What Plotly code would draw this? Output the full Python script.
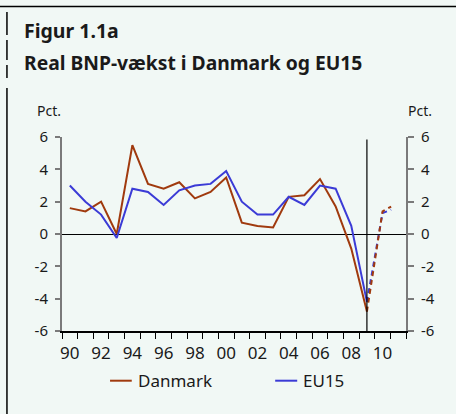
import plotly.graph_objects as go

# ---- data ----
years = list(range(1990, 2010))
danmark = [1.6, 1.4, 2.0, 0.0, 5.5, 3.1, 2.8, 3.2, 2.2, 2.6,
           3.5, 0.7, 0.5, 0.4, 2.3, 2.4, 3.4, 1.7, -0.9, -4.8]
eu15 = [3.0, 2.0, 1.2, -0.25, 2.8, 2.6, 1.8, 2.7, 3.0, 3.1,
        3.9, 2.0, 1.2, 1.2, 2.3, 1.8, 3.0, 2.8, 0.5, -4.2]
fc_years = [2009, 2010, 2010.55]
danmark_fc = [-4.8, 1.4, 1.7]
eu15_fc = [-4.2, 1.3, 1.5]
y_ticks = [-6, -4, -2, 0, 2, 4, 6]
y_ticktext = ["-6", "-4", "-2", "0", "2", "4", "6"]
x_label_years = list(range(1990, 2011, 2))
x_ticktext = ["90", "92", "94", "96", "98", "00", "02", "04", "06", "08", "10"]
x_boundaries = [1989.5 + i for i in range(23)]
split_year = 2009

RED = "#a03a0e"
BLUE = "#3b3bd6"
BG = "#f1f8f5"
FONT = "Noto Sans"
TXT = "#1a1a1a"

W, H = 456, 414
L, R, T, B = 62, 405.7, 137, 331


def fx(px):
    return (px - L) / (R - L)


def fy(py):
    return (B - py) / (B - T)


fig = go.Figure()
fig.add_trace(go.Scatter(x=years, y=danmark, mode="lines", name="Danmark",
                         line=dict(color=RED, width=2)))
fig.add_trace(go.Scatter(x=years, y=eu15, mode="lines", name="EU15",
                         line=dict(color=BLUE, width=2)))
fig.add_trace(go.Scatter(x=fc_years, y=eu15_fc, mode="lines", showlegend=False,
                         line=dict(color=BLUE, width=2, dash="5px,4px")))
fig.add_trace(go.Scatter(x=fc_years, y=danmark_fc, mode="lines", showlegend=False,
                         line=dict(color=RED, width=2, dash="5px,4px")))
# invisible trace to activate secondary axes
fig.add_trace(go.Scatter(x=years, y=danmark, xaxis="x2", yaxis="y2", mode="lines",
                         opacity=0, showlegend=False, hoverinfo="skip"))

fig.update_layout(
    width=W, height=H,
    margin=dict(l=L, r=W - R, t=T, b=H - B),
    paper_bgcolor=BG, plot_bgcolor=BG,
    showlegend=False,
    font=dict(family=FONT, color=TXT, size=14),
    xaxis=dict(range=[1989.5, 2011.5], tickmode="array", tickvals=x_boundaries,
               showticklabels=False, ticks="outside", ticklen=6, tickwidth=1,
               tickcolor="black", showline=True, linecolor="black", linewidth=1.5,
               showgrid=False, zeroline=False, fixedrange=True),
    xaxis2=dict(range=[1989.5, 2011.5], overlaying="x", anchor="y", side="bottom",
                tickmode="array", tickvals=x_label_years, ticktext=x_ticktext,
                ticks="", showline=False, showgrid=False, zeroline=False,
                tickfont=dict(size=17), ticklabelstandoff=10),
    yaxis=dict(range=[-6, 6], tickmode="array", tickvals=y_ticks, ticktext=y_ticktext,
               ticks="outside", ticklen=5, tickwidth=1.5, tickcolor="#7a7a7a",
               showline=True, linecolor="#7a7a7a", linewidth=2,
               showgrid=False, zeroline=True, zerolinecolor="black", zerolinewidth=1.3,
               tickfont=dict(size=15), ticklabelstandoff=4),
    yaxis2=dict(range=[-6, 6], overlaying="y", side="right", anchor="x",
                tickmode="array", tickvals=y_ticks, ticktext=y_ticktext,
                ticks="outside", ticklen=6, tickwidth=1.5, tickcolor="#7a7a7a",
                showline=True, linecolor="#7a7a7a", linewidth=2,
                showgrid=False, zeroline=False,
                tickfont=dict(size=15), ticklabelstandoff=4),
)

shapes = [
    dict(type="line", xref="x", yref="y", x0=split_year, x1=split_year, y0=-6, y1=5.85,
         line=dict(color="black", width=1.2)),
    dict(type="line", xref="paper", yref="paper", x0=fx(0), x1=fx(456), y0=fy(6.5), y1=fy(6.5),
         line=dict(color="black", width=1.5)),
]
for (a, b) in [(12, 35), (40, 60), (65, 78), (88, 414)]:
    shapes.append(dict(type="line", xref="paper", yref="paper", x0=fx(7), x1=fx(7),
                       y0=fy(a), y1=fy(b), line=dict(color="black", width=1.5)))
# legend samples
shapes.append(dict(type="line", xref="paper", yref="paper", x0=fx(110), x1=fx(131.7),
                   y0=fy(380.7), y1=fy(380.7), line=dict(color=RED, width=2)))
shapes.append(dict(type="line", xref="paper", yref="paper", x0=fx(275), x1=fx(297),
                   y0=fy(380.7), y1=fy(380.7), line=dict(color=BLUE, width=2)))
fig.update_layout(shapes=shapes)

ann = [
    dict(text="<b>Figur 1.1a</b>", x=fx(22), y=fy(30.5), xanchor="left", yanchor="middle",
         font=dict(size=19.5)),
    dict(text="<b>Real BNP-vækst i Danmark og EU15</b>", x=fx(22), y=fy(62),
         xanchor="left", yanchor="middle", font=dict(size=19.3)),
    dict(text="Pct.", x=fx(35), y=fy(110), xanchor="left", yanchor="middle",
         font=dict(size=14)),
    dict(text="Pct.", x=fx(406), y=fy(110), xanchor="left", yanchor="middle",
         font=dict(size=14)),
    dict(text="Danmark", x=fx(136), y=fy(380), xanchor="left", yanchor="middle",
         font=dict(size=17)),
    dict(text="EU15", x=fx(300.5), y=fy(380), xanchor="left", yanchor="middle",
         font=dict(size=17)),
]
for a in ann:
    a.update(xref="paper", yref="paper", showarrow=False)
fig.update_layout(annotations=ann)

fig.write_html("out.html", config={"displayModeBar": False},
               post_script="document.body.style.margin='0';document.body.style.padding='0';")
